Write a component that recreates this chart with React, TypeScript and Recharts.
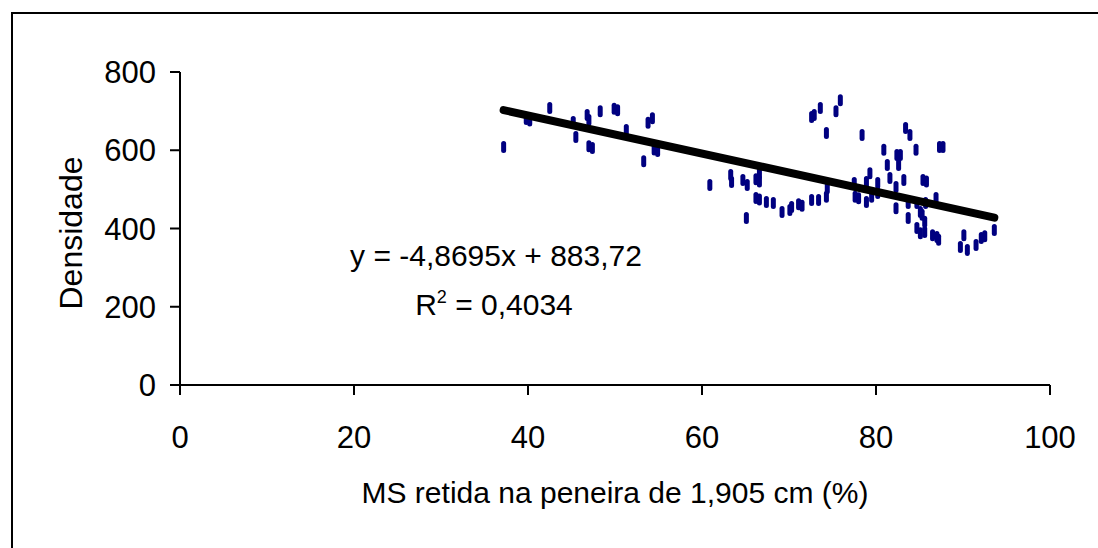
import React from "react";
import { ScatterChart, Scatter, XAxis, YAxis } from "recharts";

// Dry matter retained on the 1.905 cm sieve (%)
const MS_RETIDA = [
  37.2, 39.8, 40.2, 42.5, 45.2, 45.5, 46.8, 47.0, 47.0, 47.4, 48.3, 49.9, 50.3,
  51.3, 53.3, 53.8, 54.3, 54.5, 54.9, 60.9, 63.3, 63.4, 64.7, 65.2, 65.1, 66.2,
  66.6, 66.6, 66.2, 66.6, 67.4, 68.2, 69.2, 70.1, 70.3, 71.1, 71.5, 72.6, 73.4,
  74.3, 74.4, 72.6, 72.9, 73.6, 74.3, 75.4, 75.9, 77.5, 77.6, 78.0, 78.4, 78.9,
  78.9, 79.3, 79.5, 80.2, 80.2, 80.9, 81.3, 81.6, 82.3, 82.3, 82.4, 82.8, 82.6,
  83.2, 83.4, 83.9, 83.7, 83.7, 84.6, 84.7, 84.7, 85.1, 85.3, 85.1, 85.4, 85.8,
  85.6, 85.6, 85.7, 86.5, 86.9, 87.2, 87.0, 87.3, 87.7, 89.7, 90.1, 90.5, 91.5,
  92.1, 92.5, 93.6,
];

// Density
const DENSIDADE = [
  608, 680, 676, 708, 672, 634, 690, 677, 610, 606, 700, 706, 702,
  652, 572, 670, 682, 602, 598, 511, 537, 519, 524, 511, 427, 526,
  520, 541, 478, 474, 468, 465, 442, 447, 455, 462, 458, 473, 473,
  481, 503, 685, 690, 708, 644, 700, 728, 516, 481, 477, 639, 519,
  468, 541, 481, 516, 491, 601, 562, 529, 506, 452, 588, 588, 562,
  524, 657, 639, 465, 427, 601, 465, 401, 442, 435, 388, 524, 520,
  417, 391, 465, 383, 478, 371, 378, 608, 608, 353, 383, 345, 358,
  376, 380, 396,
];

const X_TICKS = [0, 20, 40, 60, 80, 100];
const Y_TICKS = [0, 200, 400, 600, 800];

// Linear fit: y = -4,8695x + 883,72
const SLOPE = -4.8695;
const INTERCEPT = 883.72;
const EQUATION = "y = -4,8695x + 883,72";
const R2_VALUE = "0,4034";

const points = MS_RETIDA.map((x, i) => ({ x, y: DENSIDADE[i] }));
const xMin = Math.min(...MS_RETIDA);
const xMax = Math.max(...MS_RETIDA);
const trend = [
  { x: xMin, y: SLOPE * xMin + INTERCEPT },
  { x: xMax, y: SLOPE * xMax + INTERCEPT },
];

const FONT = "'Liberation Sans', Arial, sans-serif";
const NAVY = "#000080";

const Dash = (props: any) => {
  const { cx, cy } = props;
  if (cx == null || cy == null) return null;
  return <rect x={cx - 2.5} y={cy - 6} width={5} height={12} rx={2.5} ry={2.5} fill={NAVY} />;
};

const NoShape = () => null;

export default function App() {
  return (
    <div style={{ position: "absolute", left: 0, top: 0, width: 1098, height: 548, background: "#fff" }}>
      <ScatterChart width={1098} height={548} margin={{ top: 72, right: 48, bottom: 0, left: 0 }}>
        <XAxis
          type="number"
          dataKey="x"
          domain={[0, 100]}
          ticks={X_TICKS}
          interval={0}
          height={163}
          tickSize={10}
          tickMargin={31}
          axisLine={{ stroke: "#000", strokeWidth: 2 }}
          tickLine={{ stroke: "#000", strokeWidth: 2 }}
          tick={{ fill: "#000", fontSize: 31, fontFamily: FONT }}
        />
        <YAxis
          type="number"
          dataKey="y"
          domain={[0, 800]}
          ticks={Y_TICKS}
          interval={0}
          width={180}
          tickSize={10}
          tickMargin={14}
          axisLine={{ stroke: "#000", strokeWidth: 2 }}
          tickLine={{ stroke: "#000", strokeWidth: 2 }}
          tick={{ fill: "#000", fontSize: 31, fontFamily: FONT }}
        />
        <Scatter data={points} shape={<Dash />} isAnimationActive={false} />
        <Scatter
          data={trend}
          shape={<NoShape />}
          line={{ stroke: "#000", strokeWidth: 8, strokeLinecap: "round" }}
          lineType="joint"
          isAnimationActive={false}
        />
      </ScatterChart>
      <svg
        width={1098}
        height={548}
        style={{ position: "absolute", left: 0, top: 0, pointerEvents: "none" }}
      >
        <path d="M12,548 V13 H1098" fill="none" stroke="#000" strokeWidth={2} />
        <text
          x={82}
          y={233}
          transform="rotate(-90 82 233)"
          textAnchor="middle"
          fontFamily={FONT}
          fontSize={32}
          fill="#000"
        >
          Densidade
        </text>
        <text x={615} y={503} textAnchor="middle" fontFamily={FONT} fontSize={30} fill="#000">
          MS retida na peneira de 1,905 cm (%)
        </text>
        <text x={496} y={266} textAnchor="middle" fontFamily={FONT} fontSize={30} fill="#000">
          {EQUATION}
        </text>
        <text x={494} y={315} textAnchor="middle" fontFamily={FONT} fontSize={30} fill="#000">
          R<tspan fontSize={18} dy={-12}>2</tspan>
          <tspan dy={12}>{" = " + R2_VALUE}</tspan>
        </text>
      </svg>
    </div>
  );
}
